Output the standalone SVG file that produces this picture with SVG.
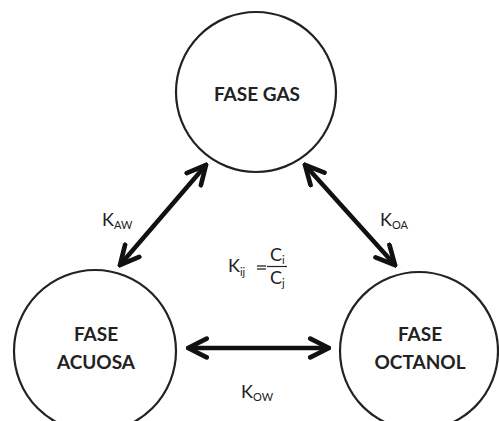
<svg xmlns="http://www.w3.org/2000/svg" width="499" height="421" viewBox="0 0 499 421">
<defs>
<marker id="ah" viewBox="0 0 10 10" refX="9" refY="5" markerWidth="5.2" markerHeight="5.2" orient="auto-start-reverse" markerUnits="strokeWidth">
<path d="M1,1 L9,5 L1,9" fill="none" stroke="#111" stroke-width="2" stroke-linecap="round" stroke-linejoin="miter"/>
</marker>
<style>
.c{fill:#fff;stroke:#222;stroke-width:2.2}
.t{font-family:Lato,"Open Sans",sans-serif;font-weight:bold;font-size:19px;fill:#222;text-anchor:middle}
.k{font-family:Lato,"Open Sans",sans-serif;font-size:18px;fill:#222}
.s{font-size:11px}
.a{stroke:#111;stroke-width:4.5;fill:none;marker-start:url(#ah);marker-end:url(#ah)}
</style>
</defs>
<rect width="499" height="421" fill="#fff"/>
<g id="gas"><circle class="c" cx="256" cy="92" r="80"/><text class="t" x="257" y="101">FASE GAS</text></g>
<g id="acuosa"><circle class="c" cx="95" cy="351" r="81"/><text class="t" x="96" y="341">FASE</text><text class="t" x="96" y="369">ACUOSA</text></g>
<g id="octanol"><circle class="c" cx="419" cy="351" r="79"/><text class="t" x="420" y="341">FASE</text><text class="t" x="420" y="369">OCTANOL</text></g>
<g id="connectors">
<line class="a" x1="120" y1="265" x2="206" y2="165"/>
<line class="a" x1="305" y1="165" x2="395" y2="265"/>
<line class="a" x1="188" y1="348" x2="329" y2="348"/>
</g>
<g id="labels">
<text class="k" x="102" y="226">K<tspan class="s" dy="3">AW</tspan></text>
<text class="k" x="380" y="226">K<tspan class="s" dy="3">OA</tspan></text>
<text class="k" x="241" y="398">K<tspan class="s" dy="3">OW</tspan></text>
<text class="k" x="228" y="272">K<tspan class="s" dy="4">ij</tspan></text>
<line x1="257" y1="266" x2="266" y2="266" stroke="#222" stroke-width="1.3"/>
<line x1="257" y1="269" x2="266" y2="269" stroke="#222" stroke-width="1.3"/>
<line x1="267" y1="266.5" x2="287" y2="266.5" stroke="#222" stroke-width="1.2"/>
<text class="k" x="270" y="261">C<tspan class="s" dy="3">i</tspan></text>
<text class="k" x="270" y="284">C<tspan class="s" dy="3">j</tspan></text>
</g>
</svg>
